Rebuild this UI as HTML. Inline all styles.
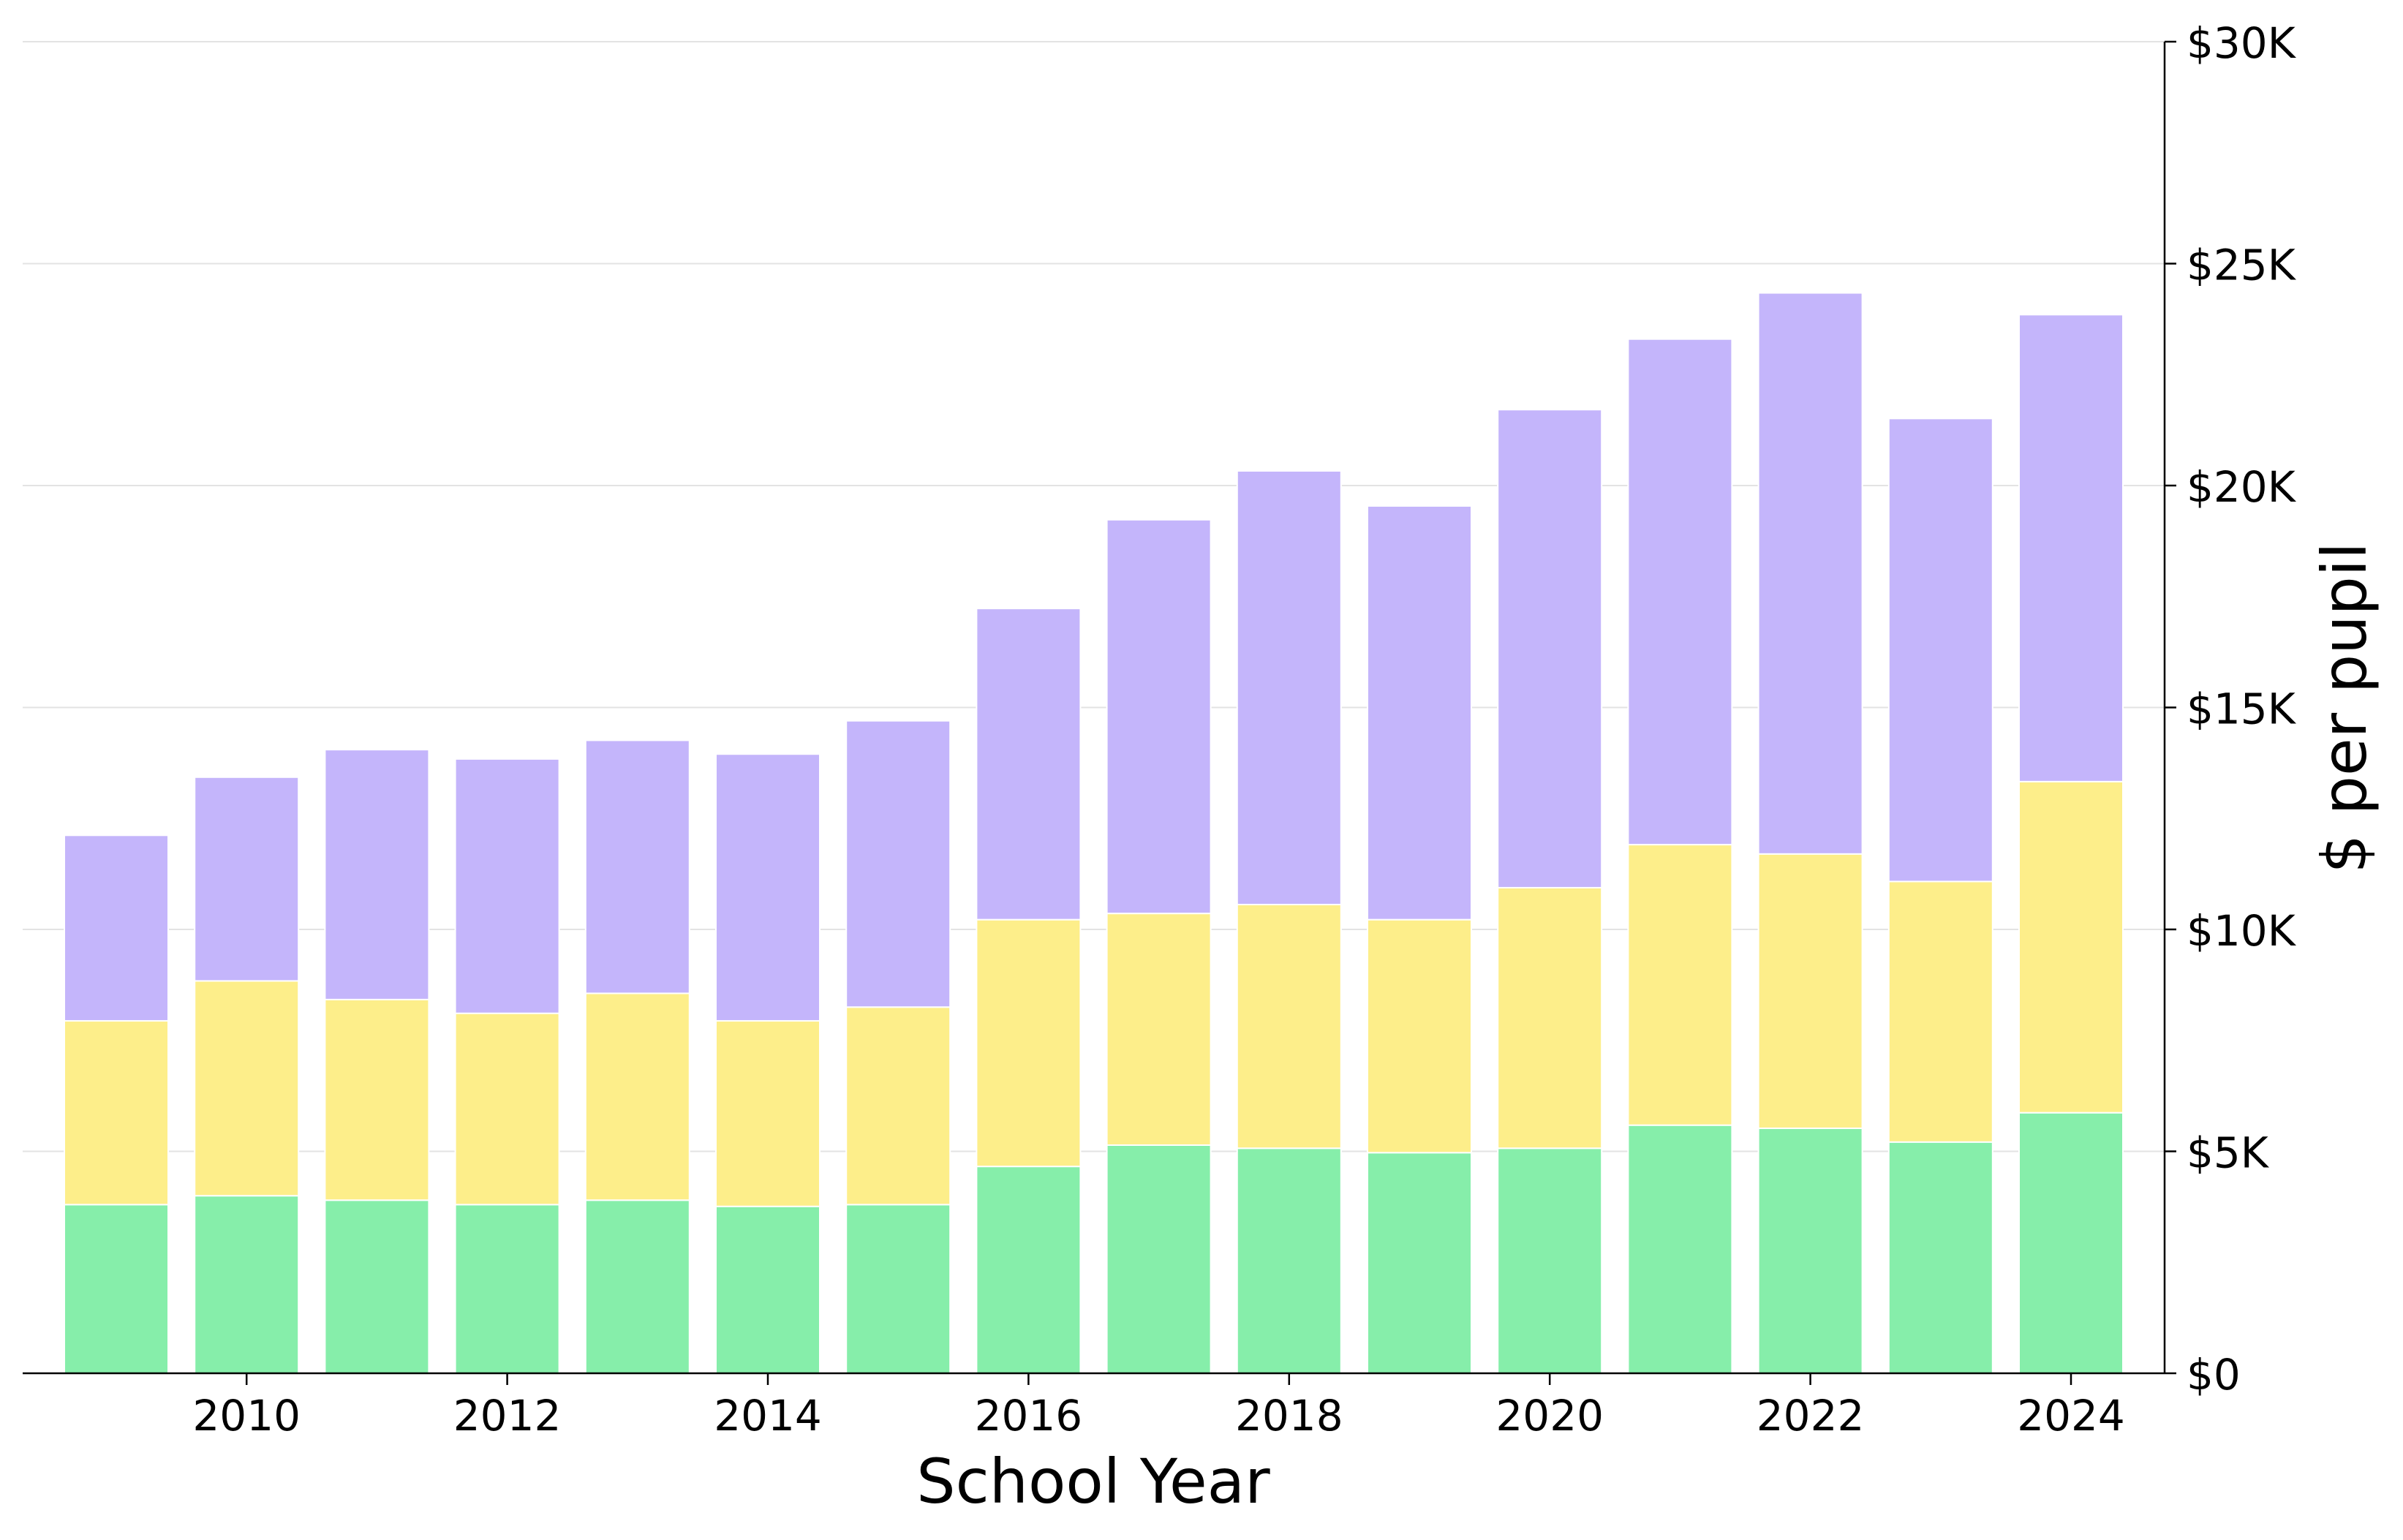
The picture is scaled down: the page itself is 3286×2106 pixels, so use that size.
<!DOCTYPE html>
<html><head><meta charset="utf-8"><style>
html,body{margin:0;padding:0;background:#fff;}
svg{display:block;font-family:"DejaVu Sans","Liberation Sans",sans-serif;}
</style></head><body>
<svg id="chart" width="3286" height="2106" viewBox="0 0 3286 2106" xmlns="http://www.w3.org/2000/svg">
<g id="grid"></g>
<g id="bars"></g>
<g id="axes"></g>
<text x="1495" y="2055" font-size="84" text-anchor="middle" fill="#000">School Year</text>
<text transform="translate(3235,968) rotate(-90)" font-size="84" text-anchor="middle" fill="#000">$ per pupil</text>
</svg>
<script>
const years = [2009,2010,2011,2012,2013,2014,2015,2016,2017,2018,2019,2020,2021,2022,2023,2024];
const greenVals = [3.8,4.0,3.9,3.8,3.9,3.76,3.8,4.66,5.14,5.07,4.97,5.07,5.59,5.52,5.21,5.87];
const yellowVals = [4.14,4.84,4.52,4.31,4.66,4.18,4.45,5.56,5.22,5.49,5.25,5.87,6.32,6.18,5.87,7.46];
const purpleVals = [4.18,4.59,5.63,5.73,5.70,6.01,6.45,7.01,8.87,9.77,9.32,10.77,11.39,12.64,10.43,10.52];
const yTicks = [0,5,10,15,20,25,30];
const yTickLabels = ["$0","$5K","$10K","$15K","$20K","$25K","$30K"];
const xTicks = [2010,2012,2014,2016,2018,2020,2022,2024];

const NS="http://www.w3.org/2000/svg";
const plotL=31, plotR=2960, y0=1878, yTop=57, yMax=30;
const xs = yr => 159 + (yr-2009)*178.2;
const ys = v => y0 - v/yMax*(y0-yTop);
const bw = 142;
function mk(tag, attrs, parent){const e=document.createElementNS(NS,tag);for(const k in attrs)e.setAttribute(k,attrs[k]);parent.appendChild(e);return e;}
const grid=document.getElementById('grid'), bars=document.getElementById('bars'), axes=document.getElementById('axes');
yTicks.forEach((t,i)=>{
  if(t>0){const g=mk('line',{x1:plotL,x2:plotR,y1:ys(t),y2:ys(t),stroke:'#e3e3e3','stroke-width':2},grid);
  
  }
  const tk=mk('line',{x1:plotR,x2:plotR+16,y1:ys(t),y2:ys(t),stroke:'#000','stroke-width':2.5},axes);
  
  
  const tx=mk('text',{x:plotR+30,y:ys(t)+22,'font-size':58,fill:'#000'},axes);
  tx.textContent=yTickLabels[i];
  
  
});
const colors=['#86eeaa','#fdee8a','#c4b5fb'];
const series=[greenVals,yellowVals,purpleVals];
const names=['green','yellow','purple'];
years.forEach((yr,i)=>{
  let base=0;
  series.forEach((s,j)=>{
    const top=base+s[i];
    const r=mk('rect',{x:xs(yr)-bw/2,y:ys(top),width:bw,height:ys(base)-ys(top),fill:colors[j],stroke:'#fff','stroke-width':2},bars);
    
    
    base=top;
  });
});
const sp=mk('line',{x1:plotL,x2:plotR,y1:y0,y2:y0,stroke:'#000','stroke-width':2.5},axes);


const sp2=mk('line',{x1:plotR,x2:plotR,y1:yTop,y2:y0,stroke:'#000','stroke-width':2.5},axes);


xTicks.forEach(t=>{
  const tk=mk('line',{x1:xs(t),x2:xs(t),y1:y0,y2:y0+16,stroke:'#000','stroke-width':2.5},axes);
  
  
  const tx=mk('text',{x:xs(t),y:y0+78,'font-size':58,'text-anchor':'middle',fill:'#000'},axes);
  tx.textContent=t;
  
  
});
</script>
</body></html>
